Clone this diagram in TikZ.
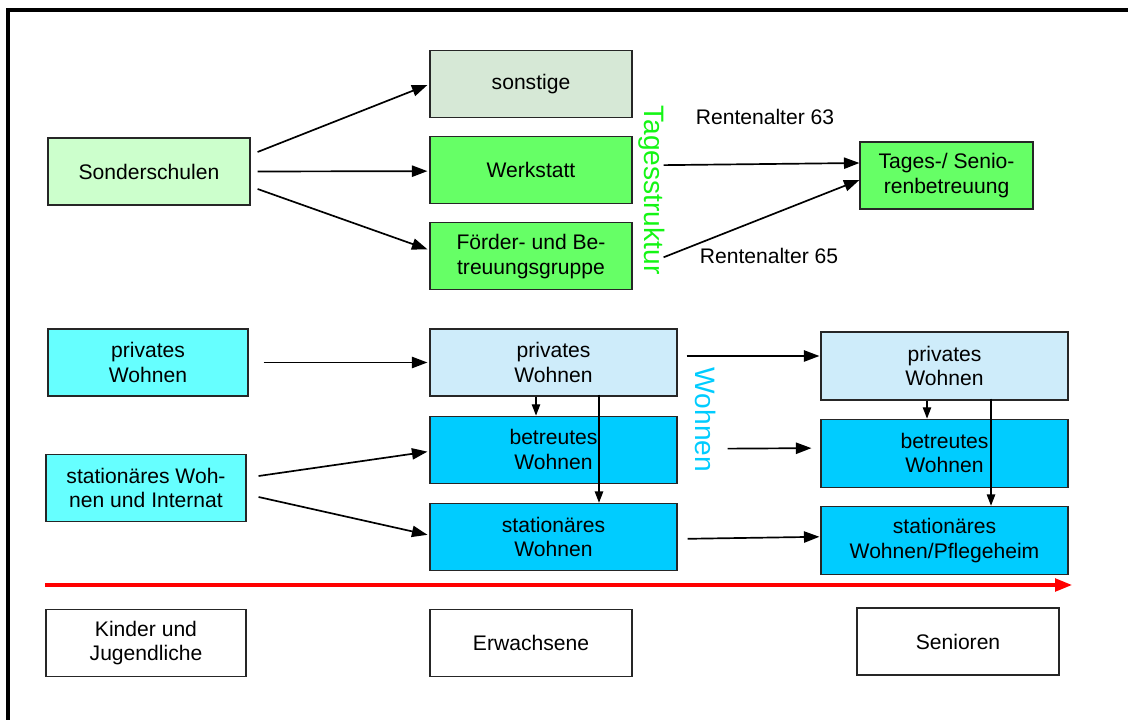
\documentclass[tikz,border=0pt]{standalone}
\usepackage{fontspec}
\setmainfont{Liberation Sans}
\usepackage{tikz}
\usetikzlibrary{arrows.meta, positioning, calc}
\definecolor{paleGreen}{RGB}{204, 255, 204}
\definecolor{midGreen}{RGB}{102, 255, 102}
\definecolor{dotGreen}{RGB}{214, 232, 214}
\definecolor{brightGreen}{RGB}{20, 245, 20}
\definecolor{paleCyan}{RGB}{102, 255, 255}
\definecolor{skyBlue}{RGB}{0, 204, 255}
\definecolor{dotBlue}{RGB}{206, 236, 250}
\definecolor{timeRed}{RGB}{255, 0, 0}

\begin{document}
\begin{tikzpicture}[
			x=0.025cm, y=-0.025cm,
			box/.style={rectangle, draw=black!85, line width=0.8pt, minimum width=5.05cm, minimum height=1.675cm, align=center, inner sep=0pt, font=\fontsize{15}{17.5}\selectfont},
			widebox/.style={box, minimum width=6.175cm},
			label/.style={font=\fontsize{15}{17.5}\selectfont},
			sidetitle/.style={font=\fontsize{20}{22}\selectfont, rotate=-90},
			arrow/.style={-{Triangle[length=11pt, width=8pt]}, line width=1.2pt},
			thinarrow/.style={-{Triangle[length=8pt, width=6pt]}, line width=0.8pt},
			timeline/.style={-{Triangle[length=12pt, width=9pt]}, line width=2.2pt, timeRed}
		]
		\useasboundingbox (0,0) rectangle (1128,720);
		\draw[line width=2.2pt] (8,725) -- (8,10) -- (1135,10);
		
		% Tagesstruktur
		\node[box, fill=paleGreen] (sonder) at (149,171.5) {Sonderschulen};
		\node[box, fill=dotGreen] (sonstige) at (531,84) {sonstige};
		\node[box, fill=midGreen, below=0.45cm of sonstige] (werk) {Werkstatt};
		\node[box, fill=midGreen, below=0.45cm of werk] (foerder) {Förder- und Be-\\treuungsgruppe};
		\node[box, fill=midGreen, minimum width=4.325cm] (senbetr) at (946.5,175.5) {Tages-/ Senio-\\renbetreuung};
		\node[sidetitle, text=brightGreen] (tagtitle) at (652,190) {Tagesstruktur};
		\node[label] (rente63) at (765,117) {Rentenalter 63};
		\node[label] (rente65) at (769,256) {Rentenalter 65};
		
		\draw[arrow] ($(sonder.east)+(7,-19.5)$) -- ($(sonstige.west)+(-2,1)$);
		\draw[arrow] ($(sonder.east)+(7,0)$) -- ($(werk.west)+(-2,1)$);
		\draw[arrow] ($(sonder.east)+(7,17.5)$) -- ($(foerder.west)+(-2,-7)$);
		\draw[arrow] ($(werk.east)+(31,-5)$) -- ($(senbetr.west)+(0,-12.5)$);
		\draw[arrow] ($(foerder.east)+(31,1)$) -- ($(senbetr.west)+(0,4.5)$);
		
		% Wohnen
		\node[box, fill=paleCyan, minimum width=5cm] (privL) at (148,362.5) {privates\\Wohnen};
		\node[box, fill=paleCyan, minimum width=5cm] (statL) at (146,488) {stationäres Woh-\\nen und Internat};
		\node[widebox, fill=dotBlue] (privM) at (553.5,362.5) {privates\\Wohnen};
		\node[widebox, fill=skyBlue, below=0.475cm of privM] (betrM) {betreutes\\Wohnen};
		\node[widebox, fill=skyBlue, below=0.475cm of betrM] (statM) {stationäres\\Wohnen};
		\node[widebox, fill=dotBlue, minimum height=1.7cm] (privR) at (944.5,366) {privates\\Wohnen};
		\node[widebox, fill=skyBlue, minimum height=1.7cm, below=0.45cm of privR] (betrR) {betreutes\\Wohnen};
		\node[widebox, fill=skyBlue, minimum height=1.7cm, below=0.45cm of betrR] (statR) {stationäres\\Wohnen/Pflegeheim};
		\node[sidetitle, text=skyBlue] (wohntitle) at (706,420) {Wohnen};
		
		\draw[arrow] ($(privL.east)+(15,0)$) -- ($(privM.west)+(-2,0)$);
		\draw[arrow] ($(statL.east)+(12,-12)$) -- ($(betrM.west)+(-2,2)$);
		\draw[arrow] ($(statL.east)+(12,9)$) -- ($(statM.west)+(-2,-2)$);
		\draw[arrow] ($(privM.east)+(9,-6.5)$) -- ($(privR.west)+(-1,-10)$);
		\draw[arrow] ($(betrM.east)+(50,-1)$) -- ($(betrR.west)+(-9,-5)$);
		\draw[arrow] ($(statM.east)+(10,2)$) -- ($(statR.west)+(-1,-3.5)$);
		
		\draw[thinarrow] ($(privM.south)+(-17.5,0)$) -- ($(betrM.north)+(-17.5,0)$);
		\draw[thinarrow] ($(privM.south)+(45.5,-2)$) -- ($(statM.north)+(45.5,0)$);
		\draw[thinarrow] ($(privR.south)+(-17.5,0)$) -- ($(betrR.north)+(-17.5,0)$);
		\draw[thinarrow] ($(privR.south)+(46.5,-2)$) -- ($(statR.north)+(46.5,0)$);
		
		% Lebensphasen
		\coordinate (tstart) at (45,585);
		\coordinate (tend) at (1072,585);
		\draw[timeline] (tstart) -- (tend);
		
		\node[box, fill=white, minimum width=5cm] (kinder) at (146,643) {Kinder und\\Jugendliche};
		\node[box, fill=white] (erw) at (531,643) {Erwachsene};
		\node[box, fill=white] (senioren) at (958,641.5) {Senioren};
\end{tikzpicture}
\end{document}
